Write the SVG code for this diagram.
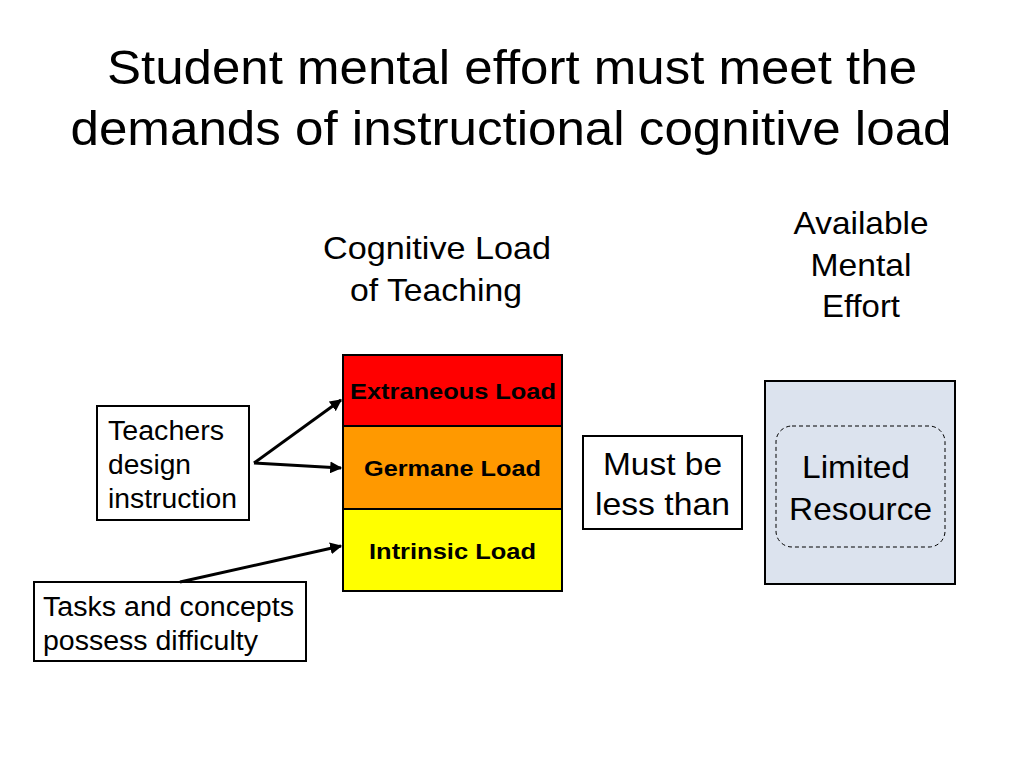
<svg xmlns="http://www.w3.org/2000/svg" width="1024" height="768" viewBox="0 0 1024 768">
<defs>
<style>
text{font-family:"Liberation Sans",Arial,sans-serif;fill:#000}
.t{font-size:48px;text-anchor:middle}
.h{font-size:32px;text-anchor:middle}
.b{font-size:22px;font-weight:bold;text-anchor:middle}
.s{font-size:27px}
.box{fill:#fff;stroke:#000;stroke-width:2}
.c{stroke:#000;stroke-width:3;fill:none;marker-end:url(#ah)}
</style>
<marker id="ah" viewBox="0 0 10 10" refX="9" refY="5" markerWidth="4" markerHeight="4" orient="auto" markerUnits="strokeWidth">
<path d="M0,0 L10,5 L0,10 z" fill="#000"/>
</marker>
</defs>
<rect width="1024" height="768" fill="#fff"/>
<g id="title">
<text class="t" x="512" y="84" textLength="810" lengthAdjust="spacingAndGlyphs">Student mental effort must meet the</text>
<text class="t" x="511" y="145" textLength="881" lengthAdjust="spacingAndGlyphs">demands of instructional cognitive load</text>
</g>
<g id="heading-cognitive">
<text class="h" x="437" y="259" textLength="228" lengthAdjust="spacingAndGlyphs">Cognitive Load</text>
<text class="h" x="436" y="301" textLength="172" lengthAdjust="spacingAndGlyphs">of Teaching</text>
</g>
<g id="heading-available">
<text class="h" x="861" y="234" textLength="135" lengthAdjust="spacingAndGlyphs">Available</text>
<text class="h" x="861" y="276" textLength="101" lengthAdjust="spacingAndGlyphs">Mental</text>
<text class="h" x="861" y="317" textLength="78" lengthAdjust="spacingAndGlyphs">Effort</text>
</g>
<g id="extraneous">
<rect x="343" y="355" width="219" height="71" fill="#ff0000" stroke="#000" stroke-width="2"/>
<text class="b" x="453" y="399" textLength="206" lengthAdjust="spacingAndGlyphs">Extraneous Load</text>
</g>
<g id="germane">
<rect x="343" y="426" width="219" height="83" fill="#ff9900" stroke="#000" stroke-width="2"/>
<text class="b" x="452.5" y="476" textLength="177" lengthAdjust="spacingAndGlyphs">Germane Load</text>
</g>
<g id="intrinsic">
<rect x="343" y="509" width="219" height="82" fill="#ffff00" stroke="#000" stroke-width="2"/>
<text class="b" x="452.5" y="559" textLength="167" lengthAdjust="spacingAndGlyphs">Intrinsic Load</text>
</g>
<g id="teachers">
<rect class="box" x="97" y="406" width="152" height="114"/>
<text class="s" x="108" y="440" textLength="116" lengthAdjust="spacingAndGlyphs">Teachers</text>
<text class="s" x="108" y="474" textLength="83" lengthAdjust="spacingAndGlyphs">design</text>
<text class="s" x="108" y="508" textLength="129" lengthAdjust="spacingAndGlyphs">instruction</text>
</g>
<g id="tasks">
<rect class="box" x="34" y="582" width="272" height="79"/>
<text class="s" x="43" y="616" textLength="251" lengthAdjust="spacingAndGlyphs">Tasks and concepts</text>
<text class="s" x="43" y="650" textLength="215" lengthAdjust="spacingAndGlyphs">possess difficulty</text>
</g>
<g id="must">
<rect class="box" x="583" y="436" width="159" height="93"/>
<text class="h" x="662.5" y="475" textLength="119" lengthAdjust="spacingAndGlyphs">Must be</text>
<text class="h" x="662.5" y="515" textLength="135" lengthAdjust="spacingAndGlyphs">less than</text>
</g>
<g id="available">
<rect x="765" y="381" width="190" height="203" fill="#dce3ee" stroke="#000" stroke-width="2"/>
<rect x="776" y="426" width="169" height="121" rx="16" fill="none" stroke="#000" stroke-width="1" stroke-dasharray="4,3"/>
<text class="h" x="856" y="478" textLength="108" lengthAdjust="spacingAndGlyphs">Limited</text>
<text class="h" x="860.5" y="520" textLength="143" lengthAdjust="spacingAndGlyphs">Resource</text>
</g>
<g id="connectors">
<path class="c" d="M254,463 L341,400"/>
<path class="c" d="M254,463 L341,468"/>
<path class="c" d="M180,582 L341,546"/>
</g>
</svg>
